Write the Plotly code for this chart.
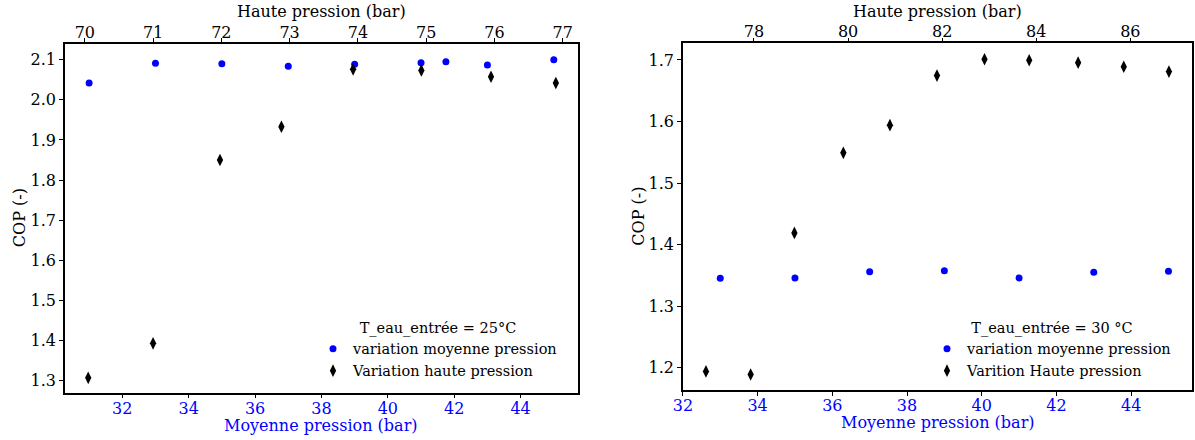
import plotly.graph_objects as go

# ---- Data: T_eau_entrée = 25 °C ----
moy_p_25 = [31, 33, 35, 37, 39, 41, 41.75, 43, 45]
cop_moy_25 = [2.042, 2.091, 2.090, 2.084, 2.0885, 2.0925, 2.095, 2.087, 2.100]
haute_p_25 = [70.05, 71.0, 71.98, 72.88, 73.93, 74.93, 75.95, 76.9]
cop_haute_25 = [1.307, 1.393, 1.850, 1.933, 2.076, 2.0735, 2.0575, 2.042]

# ---- Data: T_eau_entrée = 30 °C ----
moy_p_30 = [33, 35, 37, 39, 41, 43, 45]
cop_moy_30 = [1.3453, 1.3457, 1.356, 1.3575, 1.3457, 1.355, 1.3566]
haute_p_30 = [76.98, 77.93, 78.86, 79.9, 80.89, 81.89, 82.9, 83.85, 84.89, 85.86, 86.82]
cop_haute_30 = [1.194, 1.189, 1.419, 1.549, 1.594, 1.6745, 1.701, 1.6995, 1.6956, 1.689, 1.681]

W, H = 1195, 440
FONT = "DejaVu Serif"
BLUE = "#0000ff"

def px(x):
    return x / W

def py(y):
    return 1 - y / H

fig = go.Figure()

blue_marker = dict(color=BLUE, size=7, symbol="circle")
black_marker = dict(color="black", size=9, symbol="diamond-tall")

fig.add_trace(go.Scatter(x=moy_p_25, y=cop_moy_25, mode="markers", marker=blue_marker,
                         name="variation moyenne pression", xaxis="x", yaxis="y", legend="legend"))
fig.add_trace(go.Scatter(x=haute_p_25, y=cop_haute_25, mode="markers", marker=black_marker,
                         name="Variation haute pression", xaxis="x2", yaxis="y", legend="legend"))
fig.add_trace(go.Scatter(x=moy_p_30, y=cop_moy_30, mode="markers", marker=blue_marker,
                         name="variation moyenne pression", xaxis="x3", yaxis="y2", legend="legend2"))
fig.add_trace(go.Scatter(x=haute_p_30, y=cop_haute_30, mode="markers", marker=black_marker,
                         name="Varition Haute pression", xaxis="x4", yaxis="y2", legend="legend2"))

FS = 16
LFS = 14.5
tick_common = dict(ticks="outside", ticklen=4, tickwidth=1, tickcolor="black", automargin=False,
                   showgrid=False, zeroline=False, showline=True, linecolor="black", linewidth=1.5)

dom1 = [px(65), px(577.7)]
dom2 = [px(682.9), px(1192)]

fig.update_layout(
    width=W, height=H,
    margin=dict(l=0, r=0, t=0, b=0, pad=0, autoexpand=False),
    paper_bgcolor="white", plot_bgcolor="white",
    font=dict(family=FONT, size=FS, color="black"),
    showlegend=True,
    xaxis=dict(domain=dom1, anchor="y", range=[30.274, 45.72], tick0=32, dtick=2,
               tickfont=dict(color=BLUE, size=FS), ticklabelstandoff=-4, **tick_common),
    xaxis2=dict(overlaying="x", side="top", anchor="y", range=[69.71, 77.22], tick0=70, dtick=1,
                tickfont=dict(color="black", size=FS), ticklabelstandoff=-6, **tick_common),
    yaxis=dict(domain=[py(392.7), py(43.7)], anchor="x", range=[1.270, 2.14], tick0=1.3, dtick=0.1,
               tickformat=".1f", mirror=True, tickfont=dict(size=FS), **tick_common),
    xaxis3=dict(domain=dom2, anchor="y2", range=[32.0, 45.63], tick0=32, dtick=2,
                tickfont=dict(color=BLUE, size=FS), ticklabelstandoff=-4, **tick_common),
    xaxis4=dict(overlaying="x3", side="top", anchor="y2", range=[76.49, 87.31], tick0=78, dtick=2,
                tickfont=dict(color="black", size=FS), ticklabelstandoff=-6, **tick_common),
    yaxis2=dict(domain=[py(390), py(43.3)], anchor="x3", range=[1.1638, 1.727], tick0=1.2, dtick=0.1,
                tickformat=".1f", mirror=True, tickfont=dict(size=FS), **tick_common),
    legend=dict(x=px(313), y=py(314), xanchor="left", yanchor="top",
                bgcolor="rgba(255,255,255,0)", font=dict(size=LFS),
                title=dict(text="T_eau_entrée = 25°C", side="top center", font=dict(size=LFS)),
                tracegroupgap=0, itemwidth=30),
    legend2=dict(x=px(927), y=py(314), xanchor="left", yanchor="top",
                 bgcolor="rgba(255,255,255,0)", font=dict(size=LFS),
                 title=dict(text="T_eau_entrée = 30 °C", side="top center", font=dict(size=LFS)),
                 tracegroupgap=0, itemwidth=30),
)

# axis titles as paper annotations (exact placement)
titles = [
    ("Haute pression (bar)", 321.3, 11.5, 0, "black"),
    ("Moyenne pression (bar)", 321.3, 425.3, 0, BLUE),
    ("COP (-)", 19, 218.2, -90, "black"),
    ("Haute pression (bar)", 937.5, 11.5, 0, "black"),
    ("Moyenne pression (bar)", 937.5, 422.7, 0, BLUE),
    ("COP (-)", 639, 216.7, -90, "black"),
]
for text, x, y, ang, col in titles:
    fig.add_annotation(text=text, x=px(x), y=py(y), xref="paper", yref="paper",
                       xanchor="center", yanchor="middle", showarrow=False, textangle=ang,
                       font=dict(family=FONT, size=FS, color=col))

# remove the browser's default 8px body margin so the figure fills the window exactly
fig.write_html("out.html", config={"displayModeBar": False},
               post_script="document.body.style.margin='0';")
